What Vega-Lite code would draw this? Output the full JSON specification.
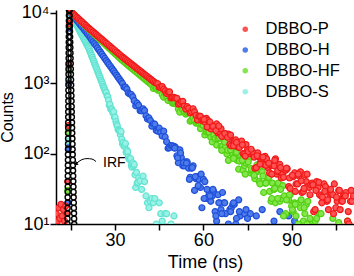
{
"$schema":"https://vega.github.io/schema/vega-lite/v6.json",
"width":298,"height":214,
"autosize":{"type":"none"},
"padding":{"left":56,"top":10,"right":0,"bottom":52},
"config":{"font":"Liberation Sans","view":{"stroke":null},
"axis":{"grid":false,"domainColor":"#000","domainWidth":1.5,"tickColor":"#000","tickWidth":1.5,"tickSize":6,"labelColor":"#000","titleColor":"#000","labelFont":"Liberation Sans","titleFont":"Liberation Sans","titleFontWeight":"normal"}},
"datasets":{
"decay":[
{"s":"DBBO-S","t":14.1,"c":150},{"s":"DBBO-S","t":14.3,"c":1200},{"s":"DBBO-S","t":14.45,"c":6500},{"s":"DBBO-S","t":14.6,"c":10200},
{"s":"DBBO-S","t":15,"c":9550},{"s":"DBBO-S","t":15.25,"c":9120},{"s":"DBBO-S","t":15.5,"c":8710},{"s":"DBBO-S","t":15.75,"c":8318},{"s":"DBBO-S","t":16,"c":7943},{"s":"DBBO-S","t":16.25,"c":7586},{"s":"DBBO-S","t":16.5,"c":7244},{"s":"DBBO-S","t":16.75,"c":6918},{"s":"DBBO-S","t":17,"c":6607},{"s":"DBBO-S","t":17.25,"c":6310},{"s":"DBBO-S","t":17.5,"c":6026},{"s":"DBBO-S","t":17.75,"c":5754},{"s":"DBBO-S","t":18,"c":5495},{"s":"DBBO-S","t":18.25,"c":5248},{"s":"DBBO-S","t":18.5,"c":5012},{"s":"DBBO-S","t":18.75,"c":4786},{"s":"DBBO-S","t":19,"c":4571},{"s":"DBBO-S","t":19.25,"c":4365},{"s":"DBBO-S","t":19.5,"c":4169},{"s":"DBBO-S","t":19.75,"c":3981},{"s":"DBBO-S","t":20,"c":3802},{"s":"DBBO-S","t":20.25,"c":3631},{"s":"DBBO-S","t":20.5,"c":3467},{"s":"DBBO-S","t":20.75,"c":3311},{"s":"DBBO-S","t":21,"c":3162},{"s":"DBBO-S","t":21.25,"c":2972},{"s":"DBBO-S","t":21.5,"c":2793},{"s":"DBBO-S","t":21.75,"c":2624},{"s":"DBBO-S","t":22,"c":2466},{"s":"DBBO-S","t":22.25,"c":2317},{"s":"DBBO-S","t":22.5,"c":2173},{"s":"DBBO-S","t":22.75,"c":2042},{"s":"DBBO-S","t":23,"c":1919},{"s":"DBBO-S","t":23.25,"c":1803},{"s":"DBBO-S","t":23.5,"c":1694},{"s":"DBBO-S","t":23.75,"c":1592},{"s":"DBBO-S","t":24,"c":1496},{"s":"DBBO-S","t":24.25,"c":1406},{"s":"DBBO-S","t":24.5,"c":1321},{"s":"DBBO-S","t":24.75,"c":1242},{"s":"DBBO-S","t":25,"c":1167},{"s":"DBBO-S","t":25.25,"c":1096},{"s":"DBBO-S","t":25.5,"c":1030},{"s":"DBBO-S","t":25.75,"c":966},{"s":"DBBO-S","t":26,"c":899},{"s":"DBBO-S","t":26.25,"c":853},{"s":"DBBO-S","t":26.5,"c":802},{"s":"DBBO-S","t":26.75,"c":753},{"s":"DBBO-S","t":27,"c":732},{"s":"DBBO-S","t":27.25,"c":661},{"s":"DBBO-S","t":27.5,"c":642},{"s":"DBBO-S","t":27.75,"c":574},{"s":"DBBO-S","t":28,"c":486},{"s":"DBBO-S","t":28.25,"c":499},{"s":"DBBO-S","t":28.5,"c":428},{"s":"DBBO-S","t":28.75,"c":434},{"s":"DBBO-S","t":29,"c":408},{"s":"DBBO-S","t":29.25,"c":377},{"s":"DBBO-S","t":29.5,"c":392},{"s":"DBBO-S","t":29.75,"c":327},{"s":"DBBO-S","t":30,"c":328},{"s":"DBBO-S","t":30.25,"c":284},{"s":"DBBO-S","t":30.5,"c":262},{"s":"DBBO-S","t":30.75,"c":247},{"s":"DBBO-S","t":31,"c":219},{"s":"DBBO-S","t":31.25,"c":215},{"s":"DBBO-S","t":31.5,"c":210},{"s":"DBBO-S","t":31.75,"c":187},{"s":"DBBO-S","t":32,"c":206},{"s":"DBBO-S","t":32.25,"c":160},{"s":"DBBO-S","t":32.5,"c":138},{"s":"DBBO-S","t":32.75,"c":143},{"s":"DBBO-S","t":33,"c":127},{"s":"DBBO-S","t":33.25,"c":130},{"s":"DBBO-S","t":33.5,"c":139},{"s":"DBBO-S","t":33.75,"c":104},{"s":"DBBO-S","t":34,"c":112},{"s":"DBBO-S","t":34.25,"c":106},{"s":"DBBO-S","t":34.5,"c":89},{"s":"DBBO-S","t":34.75,"c":84},{"s":"DBBO-S","t":35,"c":82},{"s":"DBBO-S","t":35.25,"c":85},{"s":"DBBO-S","t":35.5,"c":68},{"s":"DBBO-S","t":35.75,"c":64},{"s":"DBBO-S","t":36,"c":74},{"s":"DBBO-S","t":36.25,"c":67},{"s":"DBBO-S","t":36.5,"c":70},{"s":"DBBO-S","t":36.75,"c":50},{"s":"DBBO-S","t":37,"c":33},{"s":"DBBO-S","t":37.25,"c":54},{"s":"DBBO-S","t":37.5,"c":38},{"s":"DBBO-S","t":37.75,"c":39},{"s":"DBBO-S","t":38,"c":45},{"s":"DBBO-S","t":38.5,"c":41},{"s":"DBBO-S","t":39,"c":31},{"s":"DBBO-S","t":39.5,"c":48},{"s":"DBBO-S","t":40,"c":40},{"s":"DBBO-S","t":40.5,"c":25},{"s":"DBBO-S","t":41,"c":20},{"s":"DBBO-S","t":41.5,"c":17},{"s":"DBBO-S","t":42,"c":21},{"s":"DBBO-S","t":42.5,"c":23},{"s":"DBBO-S","t":43,"c":20},{"s":"DBBO-S","t":43.5,"c":23},{"s":"DBBO-S","t":44,"c":10},{"s":"DBBO-S","t":44.5,"c":6},{"s":"DBBO-S","t":45,"c":20},{"s":"DBBO-S","t":45.5,"c":14},{"s":"DBBO-S","t":46,"c":11},{"s":"DBBO-S","t":46.5,"c":8},{"s":"DBBO-S","t":47,"c":14},{"s":"DBBO-S","t":47.5,"c":14},{"s":"DBBO-S","t":48,"c":5},{"s":"DBBO-S","t":49,"c":10},{"s":"DBBO-S","t":50,"c":13},
{"s":"DBBO-H","t":14,"c":20},{"s":"DBBO-H","t":14.15,"c":120},{"s":"DBBO-H","t":14.3,"c":1000},{"s":"DBBO-H","t":14.45,"c":6000},{"s":"DBBO-H","t":14.6,"c":10300},
{"s":"DBBO-H","t":15,"c":9863},{"s":"DBBO-H","t":15.5,"c":9290},{"s":"DBBO-H","t":16,"c":8750},{"s":"DBBO-H","t":16.5,"c":8241},{"s":"DBBO-H","t":17,"c":7745},{"s":"DBBO-H","t":17.5,"c":7295},{"s":"DBBO-H","t":18,"c":6871},{"s":"DBBO-H","t":18.5,"c":6471},{"s":"DBBO-H","t":19,"c":6095},{"s":"DBBO-H","t":19.5,"c":5741},{"s":"DBBO-H","t":20,"c":5395},{"s":"DBBO-H","t":20.5,"c":5082},{"s":"DBBO-H","t":21,"c":4786},{"s":"DBBO-H","t":21.5,"c":4467},{"s":"DBBO-H","t":22,"c":4169},{"s":"DBBO-H","t":22.5,"c":3890},{"s":"DBBO-H","t":23,"c":3631},{"s":"DBBO-H","t":23.5,"c":3388},{"s":"DBBO-H","t":24,"c":3162},{"s":"DBBO-H","t":24.5,"c":2951},{"s":"DBBO-H","t":25,"c":2754},{"s":"DBBO-H","t":25.5,"c":2570},{"s":"DBBO-H","t":26,"c":2399},{"s":"DBBO-H","t":26.5,"c":2239},{"s":"DBBO-H","t":27,"c":2089},{"s":"DBBO-H","t":27.5,"c":1950},{"s":"DBBO-H","t":28,"c":1824},{"s":"DBBO-H","t":28.5,"c":1706},{"s":"DBBO-H","t":29,"c":1592},{"s":"DBBO-H","t":29.5,"c":1489},{"s":"DBBO-H","t":30,"c":1390},{"s":"DBBO-H","t":30.5,"c":1300},{"s":"DBBO-H","t":31,"c":1213},{"s":"DBBO-H","t":31.5,"c":1132},{"s":"DBBO-H","t":32,"c":1059},{"s":"DBBO-H","t":32.5,"c":989},{"s":"DBBO-H","t":33,"c":879},{"s":"DBBO-H","t":33.5,"c":878},{"s":"DBBO-H","t":34,"c":822},{"s":"DBBO-H","t":34.5,"c":726},{"s":"DBBO-H","t":35,"c":700},{"s":"DBBO-H","t":35.5,"c":689},{"s":"DBBO-H","t":36,"c":639},{"s":"DBBO-H","t":36.5,"c":563},{"s":"DBBO-H","t":37,"c":476},{"s":"DBBO-H","t":37.5,"c":518},{"s":"DBBO-H","t":38,"c":483},{"s":"DBBO-H","t":38.5,"c":407},{"s":"DBBO-H","t":39,"c":404},{"s":"DBBO-H","t":39.5,"c":430},{"s":"DBBO-H","t":40,"c":407},{"s":"DBBO-H","t":40.5,"c":344},{"s":"DBBO-H","t":41,"c":310},{"s":"DBBO-H","t":41.5,"c":320},{"s":"DBBO-H","t":42,"c":294},{"s":"DBBO-H","t":42.5,"c":245},{"s":"DBBO-H","t":43,"c":265},{"s":"DBBO-H","t":43.5,"c":261},{"s":"DBBO-H","t":44,"c":212},{"s":"DBBO-H","t":44.5,"c":208},{"s":"DBBO-H","t":45,"c":229},{"s":"DBBO-H","t":45.5,"c":200},{"s":"DBBO-H","t":46,"c":178},{"s":"DBBO-H","t":46.5,"c":208},{"s":"DBBO-H","t":47,"c":172},{"s":"DBBO-H","t":47.5,"c":147},{"s":"DBBO-H","t":48,"c":119},{"s":"DBBO-H","t":48.5,"c":121},{"s":"DBBO-H","t":49,"c":130},{"s":"DBBO-H","t":49.5,"c":129},{"s":"DBBO-H","t":50,"c":127},{"s":"DBBO-H","t":50.5,"c":123},{"s":"DBBO-H","t":51,"c":93},{"s":"DBBO-H","t":51.5,"c":74},{"s":"DBBO-H","t":52,"c":113},{"s":"DBBO-H","t":52.5,"c":88},{"s":"DBBO-H","t":53,"c":67},{"s":"DBBO-H","t":53.5,"c":67},{"s":"DBBO-H","t":54,"c":76},{"s":"DBBO-H","t":54.5,"c":76},{"s":"DBBO-H","t":55,"c":62},{"s":"DBBO-H","t":55.5,"c":46},{"s":"DBBO-H","t":56,"c":62},{"s":"DBBO-H","t":56.5,"c":67},{"s":"DBBO-H","t":57,"c":30},{"s":"DBBO-H","t":57.5,"c":44},{"s":"DBBO-H","t":58,"c":47},{"s":"DBBO-H","t":58.5,"c":43},{"s":"DBBO-H","t":59,"c":33},{"s":"DBBO-H","t":59.5,"c":17},{"s":"DBBO-H","t":60,"c":43},{"s":"DBBO-H","t":60.5,"c":40},{"s":"DBBO-H","t":61,"c":23},{"s":"DBBO-H","t":61.5,"c":24},{"s":"DBBO-H","t":62,"c":27},{"s":"DBBO-H","t":62.5,"c":21},{"s":"DBBO-H","t":63,"c":25},{"s":"DBBO-H","t":63.5,"c":29},{"s":"DBBO-H","t":64,"c":15},{"s":"DBBO-H","t":64.5,"c":11},{"s":"DBBO-H","t":65,"c":26},{"s":"DBBO-H","t":65.5,"c":20},{"s":"DBBO-H","t":66,"c":16},{"s":"DBBO-H","t":66.5,"c":28},{"s":"DBBO-H","t":67,"c":20},{"s":"DBBO-H","t":67.5,"c":14},{"s":"DBBO-H","t":68,"c":7},{"s":"DBBO-H","t":68.5,"c":10},{"s":"DBBO-H","t":69,"c":16},{"s":"DBBO-H","t":69.5,"c":17},{"s":"DBBO-H","t":70,"c":19},{"s":"DBBO-H","t":70.5,"c":19},{"s":"DBBO-H","t":71,"c":10},{"s":"DBBO-H","t":71.5,"c":5},{"s":"DBBO-H","t":72,"c":22},{"s":"DBBO-H","t":72.5,"c":13},{"s":"DBBO-H","t":73,"c":7},{"s":"DBBO-H","t":73.5,"c":9},{"s":"DBBO-H","t":74,"c":14},{"s":"DBBO-H","t":74.5,"c":16},{"s":"DBBO-H","t":75,"c":12},{"s":"DBBO-H","t":75.5,"c":6},{"s":"DBBO-H","t":76,"c":14},{"s":"DBBO-H","t":77,"c":5},{"s":"DBBO-H","t":78,"c":13},{"s":"DBBO-H","t":79,"c":8.5},{"s":"DBBO-H","t":80,"c":16},{"s":"DBBO-H","t":82,"c":9},{"s":"DBBO-H","t":84,"c":11},{"s":"DBBO-H","t":86,"c":15},{"s":"DBBO-H","t":88,"c":8},{"s":"DBBO-H","t":89,"c":13},{"s":"DBBO-H","t":91,"c":11},{"s":"DBBO-H","t":93,"c":8},
{"s":"DBBO-H","t":50.25,"c":119},{"s":"DBBO-H","t":51.25,"c":87},{"s":"DBBO-H","t":52.25,"c":102},{"s":"DBBO-H","t":53.25,"c":74},{"s":"DBBO-H","t":54.25,"c":73},{"s":"DBBO-H","t":55.25,"c":43},{"s":"DBBO-H","t":56.25,"c":63},{"s":"DBBO-H","t":57.25,"c":47},{"s":"DBBO-H","t":58.25,"c":35},{"s":"DBBO-H","t":59.25,"c":51},{"s":"DBBO-H","t":60.25,"c":23},{"s":"DBBO-H","t":61.25,"c":31},{"s":"DBBO-H","t":62.25,"c":25},{"s":"DBBO-H","t":63.25,"c":31},{"s":"DBBO-H","t":64.25,"c":13},{"s":"DBBO-H","t":65.25,"c":20},{"s":"DBBO-H","t":66.25,"c":14},{"s":"DBBO-H","t":67.25,"c":20},{"s":"DBBO-H","t":68.25,"c":7},{"s":"DBBO-H","t":69.25,"c":15},{"s":"DBBO-H","t":70.25,"c":20},{"s":"DBBO-H","t":71.25,"c":12},{"s":"DBBO-H","t":72.25,"c":15},
{"s":"DBBO-HF","t":13.9,"c":30},{"s":"DBBO-HF","t":14.1,"c":200},{"s":"DBBO-HF","t":14.3,"c":1500},{"s":"DBBO-HF","t":14.45,"c":6500},{"s":"DBBO-HF","t":14.6,"c":10400},
{"s":"DBBO-HF","t":15,"c":10233},{"s":"DBBO-HF","t":15.5,"c":9772},{"s":"DBBO-HF","t":16,"c":9333},{"s":"DBBO-HF","t":16.5,"c":8913},{"s":"DBBO-HF","t":17,"c":8511},{"s":"DBBO-HF","t":17.5,"c":8128},{"s":"DBBO-HF","t":18,"c":7762},{"s":"DBBO-HF","t":18.5,"c":7413},{"s":"DBBO-HF","t":19,"c":7079},{"s":"DBBO-HF","t":19.5,"c":6761},{"s":"DBBO-HF","t":20,"c":6457},{"s":"DBBO-HF","t":20.5,"c":6166},{"s":"DBBO-HF","t":21,"c":5888},{"s":"DBBO-HF","t":21.5,"c":5623},{"s":"DBBO-HF","t":22,"c":5383},{"s":"DBBO-HF","t":22.5,"c":5140},{"s":"DBBO-HF","t":23,"c":4920},{"s":"DBBO-HF","t":23.5,"c":4699},{"s":"DBBO-HF","t":24,"c":4498},{"s":"DBBO-HF","t":24.5,"c":4295},{"s":"DBBO-HF","t":25,"c":4111},{"s":"DBBO-HF","t":25.5,"c":3926},{"s":"DBBO-HF","t":26,"c":3758},{"s":"DBBO-HF","t":26.5,"c":3589},{"s":"DBBO-HF","t":27,"c":3428},{"s":"DBBO-HF","t":27.5,"c":3281},{"s":"DBBO-HF","t":28,"c":3133},{"s":"DBBO-HF","t":28.5,"c":2999},{"s":"DBBO-HF","t":29,"c":2864},{"s":"DBBO-HF","t":29.5,"c":2735},{"s":"DBBO-HF","t":30,"c":2618},{"s":"DBBO-HF","t":30.5,"c":2500},{"s":"DBBO-HF","t":31,"c":2393},{"s":"DBBO-HF","t":31.5,"c":2286},{"s":"DBBO-HF","t":32,"c":2188},{"s":"DBBO-HF","t":32.5,"c":2089},{"s":"DBBO-HF","t":33,"c":2009},{"s":"DBBO-HF","t":33.5,"c":1928},{"s":"DBBO-HF","t":34,"c":1854},{"s":"DBBO-HF","t":34.5,"c":1782},{"s":"DBBO-HF","t":35,"c":1710},{"s":"DBBO-HF","t":35.5,"c":1644},{"s":"DBBO-HF","t":36,"c":1581},{"s":"DBBO-HF","t":36.5,"c":1517},{"s":"DBBO-HF","t":37,"c":1459},{"s":"DBBO-HF","t":37.5,"c":1403},{"s":"DBBO-HF","t":38,"c":1346},{"s":"DBBO-HF","t":38.5,"c":1294},{"s":"DBBO-HF","t":39,"c":1245},{"s":"DBBO-HF","t":39.5,"c":1194},{"s":"DBBO-HF","t":40,"c":1148},{"s":"DBBO-HF","t":40.5,"c":1104},{"s":"DBBO-HF","t":41,"c":1059},{"s":"DBBO-HF","t":41.5,"c":1019},{"s":"DBBO-HF","t":42,"c":977},{"s":"DBBO-HF","t":42.5,"c":940},{"s":"DBBO-HF","t":43,"c":841},{"s":"DBBO-HF","t":43.5,"c":893},{"s":"DBBO-HF","t":44,"c":840},{"s":"DBBO-HF","t":44.5,"c":791},{"s":"DBBO-HF","t":45,"c":805},{"s":"DBBO-HF","t":45.5,"c":781},{"s":"DBBO-HF","t":46,"c":690},{"s":"DBBO-HF","t":46.5,"c":632},{"s":"DBBO-HF","t":47,"c":717},{"s":"DBBO-HF","t":47.5,"c":639},{"s":"DBBO-HF","t":48,"c":568},{"s":"DBBO-HF","t":48.5,"c":633},{"s":"DBBO-HF","t":49,"c":574},{"s":"DBBO-HF","t":49.5,"c":518},{"s":"DBBO-HF","t":50,"c":514},{"s":"DBBO-HF","t":50.5,"c":508},{"s":"DBBO-HF","t":51,"c":498},{"s":"DBBO-HF","t":51.5,"c":430},{"s":"DBBO-HF","t":52,"c":386},{"s":"DBBO-HF","t":52.5,"c":460},{"s":"DBBO-HF","t":53,"c":420},{"s":"DBBO-HF","t":53.5,"c":387},{"s":"DBBO-HF","t":54,"c":363},{"s":"DBBO-HF","t":54.5,"c":374},{"s":"DBBO-HF","t":55,"c":384},{"s":"DBBO-HF","t":55.5,"c":288},{"s":"DBBO-HF","t":56,"c":300},{"s":"DBBO-HF","t":56.5,"c":322},{"s":"DBBO-HF","t":57,"c":294},{"s":"DBBO-HF","t":57.5,"c":269},{"s":"DBBO-HF","t":58,"c":275},{"s":"DBBO-HF","t":58.5,"c":269},{"s":"DBBO-HF","t":59,"c":226},{"s":"DBBO-HF","t":59.5,"c":259},{"s":"DBBO-HF","t":60,"c":251},{"s":"DBBO-HF","t":60.5,"c":184},{"s":"DBBO-HF","t":61,"c":203},{"s":"DBBO-HF","t":61.5,"c":202},{"s":"DBBO-HF","t":62,"c":202},{"s":"DBBO-HF","t":62.5,"c":170},{"s":"DBBO-HF","t":63,"c":146},{"s":"DBBO-HF","t":63.5,"c":181},{"s":"DBBO-HF","t":64,"c":163},{"s":"DBBO-HF","t":64.5,"c":132},{"s":"DBBO-HF","t":65,"c":163},{"s":"DBBO-HF","t":65.5,"c":167},{"s":"DBBO-HF","t":66,"c":126},{"s":"DBBO-HF","t":66.5,"c":127},{"s":"DBBO-HF","t":67,"c":151},{"s":"DBBO-HF","t":67.5,"c":126},{"s":"DBBO-HF","t":68,"c":99},{"s":"DBBO-HF","t":68.5,"c":80},{"s":"DBBO-HF","t":69,"c":112},{"s":"DBBO-HF","t":69.5,"c":120},{"s":"DBBO-HF","t":70,"c":97},{"s":"DBBO-HF","t":70.5,"c":89},{"s":"DBBO-HF","t":71,"c":101},{"s":"DBBO-HF","t":71.5,"c":80},{"s":"DBBO-HF","t":72,"c":60},{"s":"DBBO-HF","t":72.5,"c":93},{"s":"DBBO-HF","t":73,"c":83},{"s":"DBBO-HF","t":73.5,"c":58},{"s":"DBBO-HF","t":74,"c":67},{"s":"DBBO-HF","t":74.5,"c":73},{"s":"DBBO-HF","t":75,"c":82},{"s":"DBBO-HF","t":75.5,"c":85},{"s":"DBBO-HF","t":76,"c":53},{"s":"DBBO-HF","t":76.5,"c":56},{"s":"DBBO-HF","t":77,"c":58},{"s":"DBBO-HF","t":77.5,"c":44},{"s":"DBBO-HF","t":78,"c":55},{"s":"DBBO-HF","t":78.5,"c":56},{"s":"DBBO-HF","t":79,"c":40},{"s":"DBBO-HF","t":79.5,"c":57},{"s":"DBBO-HF","t":80,"c":55},{"s":"DBBO-HF","t":80.5,"c":28},{"s":"DBBO-HF","t":81,"c":38},{"s":"DBBO-HF","t":81.5,"c":40},{"s":"DBBO-HF","t":82,"c":41},{"s":"DBBO-HF","t":82.5,"c":29},{"s":"DBBO-HF","t":83,"c":21},{"s":"DBBO-HF","t":83.5,"c":38},{"s":"DBBO-HF","t":84,"c":31},{"s":"DBBO-HF","t":84.5,"c":20},{"s":"DBBO-HF","t":85,"c":35},{"s":"DBBO-HF","t":85.5,"c":38},{"s":"DBBO-HF","t":86,"c":21},{"s":"DBBO-HF","t":86.5,"c":23},{"s":"DBBO-HF","t":87,"c":35},{"s":"DBBO-HF","t":87.5,"c":25},{"s":"DBBO-HF","t":88,"c":14},{"s":"DBBO-HF","t":88.5,"c":7},{"s":"DBBO-HF","t":89,"c":22},{"s":"DBBO-HF","t":89.5,"c":26},{"s":"DBBO-HF","t":90,"c":18},{"s":"DBBO-HF","t":90.5,"c":15},{"s":"DBBO-HF","t":91,"c":20},{"s":"DBBO-HF","t":91.5,"c":13},{"s":"DBBO-HF","t":92,"c":6},{"s":"DBBO-HF","t":92.5,"c":20},{"s":"DBBO-HF","t":93,"c":17},{"s":"DBBO-HF","t":93.5,"c":7},{"s":"DBBO-HF","t":94,"c":11},{"s":"DBBO-HF","t":94.5,"c":14},{"s":"DBBO-HF","t":95,"c":19},{"s":"DBBO-HF","t":95.5,"c":21},{"s":"DBBO-HF","t":96,"c":8},{"s":"DBBO-HF","t":96.5,"c":9.5},{"s":"DBBO-HF","t":97,"c":11},{"s":"DBBO-HF","t":97.5,"c":6},{"s":"DBBO-HF","t":98,"c":11},{"s":"DBBO-HF","t":98.5,"c":12},{"s":"DBBO-HF","t":99,"c":6},{"s":"DBBO-HF","t":99.5,"c":14},{"s":"DBBO-HF","t":100,"c":14},{"s":"DBBO-HF","t":104,"c":12},{"s":"DBBO-HF","t":106,"c":10.5},{"s":"DBBO-HF","t":107.5,"c":24},{"s":"DBBO-HF","t":109,"c":11},
{"s":"DBBO-HF","t":66.25,"c":111},{"s":"DBBO-HF","t":67.25,"c":145},{"s":"DBBO-HF","t":68.25,"c":111},{"s":"DBBO-HF","t":69.25,"c":113},{"s":"DBBO-HF","t":70.25,"c":85},{"s":"DBBO-HF","t":71.25,"c":104},{"s":"DBBO-HF","t":72.25,"c":78},{"s":"DBBO-HF","t":73.25,"c":80},{"s":"DBBO-HF","t":74.25,"c":51},{"s":"DBBO-HF","t":75.25,"c":76},{"s":"DBBO-HF","t":76.25,"c":61},{"s":"DBBO-HF","t":77.25,"c":49},{"s":"DBBO-HF","t":78.25,"c":69},{"s":"DBBO-HF","t":79.25,"c":37},{"s":"DBBO-HF","t":80.25,"c":48},{"s":"DBBO-HF","t":81.25,"c":38},{"s":"DBBO-HF","t":82.25,"c":46},{"s":"DBBO-HF","t":83.25,"c":23},{"s":"DBBO-HF","t":84.25,"c":32},{"s":"DBBO-HF","t":85.25,"c":23},{"s":"DBBO-HF","t":86.25,"c":31},{"s":"DBBO-HF","t":87.25,"c":13},{"s":"DBBO-HF","t":88.25,"c":22},{"s":"DBBO-HF","t":89.25,"c":26},{"s":"DBBO-HF","t":90.25,"c":16},{"s":"DBBO-HF","t":91.25,"c":19},{"s":"DBBO-HF","t":92.25,"c":10},{"s":"DBBO-HF","t":93.25,"c":22},{"s":"DBBO-HF","t":94.25,"c":17},{"s":"DBBO-HF","t":95.25,"c":10},{"s":"DBBO-HF","t":96.25,"c":12},{"s":"DBBO-HF","t":97.25,"c":5},
{"s":"DBBO-P","t":10,"c":14},{"s":"DBBO-P","t":10.4,"c":11},{"s":"DBBO-P","t":10.8,"c":17},{"s":"DBBO-P","t":11.2,"c":12},{"s":"DBBO-P","t":11.6,"c":19},{"s":"DBBO-P","t":12,"c":13},{"s":"DBBO-P","t":12.4,"c":16},{"s":"DBBO-P","t":12.8,"c":11},{"s":"DBBO-P","t":13.2,"c":18},{"s":"DBBO-P","t":13.6,"c":14},{"s":"DBBO-P","t":13.9,"c":40},{"s":"DBBO-P","t":14.1,"c":250},{"s":"DBBO-P","t":14.3,"c":1800},{"s":"DBBO-P","t":14.45,"c":7000},{"s":"DBBO-P","t":14.6,"c":10600},
{"s":"DBBO-P","t":15,"c":10257},{"s":"DBBO-P","t":15.5,"c":9817},{"s":"DBBO-P","t":16,"c":9376},{"s":"DBBO-P","t":16.5,"c":8974},{"s":"DBBO-P","t":17,"c":8590},{"s":"DBBO-P","t":17.5,"c":8222},{"s":"DBBO-P","t":18,"c":7852},{"s":"DBBO-P","t":18.5,"c":7516},{"s":"DBBO-P","t":19,"c":7194},{"s":"DBBO-P","t":19.5,"c":6887},{"s":"DBBO-P","t":20,"c":6577},{"s":"DBBO-P","t":20.5,"c":6295},{"s":"DBBO-P","t":21,"c":6026},{"s":"DBBO-P","t":21.5,"c":5781},{"s":"DBBO-P","t":22,"c":5546},{"s":"DBBO-P","t":22.5,"c":5333},{"s":"DBBO-P","t":23,"c":5117},{"s":"DBBO-P","t":23.5,"c":4909},{"s":"DBBO-P","t":24,"c":4710},{"s":"DBBO-P","t":24.5,"c":4519},{"s":"DBBO-P","t":25,"c":4335},{"s":"DBBO-P","t":25.5,"c":4169},{"s":"DBBO-P","t":26,"c":4000},{"s":"DBBO-P","t":26.5,"c":3837},{"s":"DBBO-P","t":27,"c":3681},{"s":"DBBO-P","t":27.5,"c":3532},{"s":"DBBO-P","t":28,"c":3388},{"s":"DBBO-P","t":28.5,"c":3258},{"s":"DBBO-P","t":29,"c":3126},{"s":"DBBO-P","t":29.5,"c":2999},{"s":"DBBO-P","t":30,"c":2877},{"s":"DBBO-P","t":30.5,"c":2761},{"s":"DBBO-P","t":31,"c":2655},{"s":"DBBO-P","t":31.5,"c":2547},{"s":"DBBO-P","t":32,"c":2443},{"s":"DBBO-P","t":32.5,"c":2344},{"s":"DBBO-P","t":33,"c":2259},{"s":"DBBO-P","t":33.5,"c":2173},{"s":"DBBO-P","t":34,"c":2094},{"s":"DBBO-P","t":34.5,"c":2014},{"s":"DBBO-P","t":35,"c":1941},{"s":"DBBO-P","t":35.5,"c":1866},{"s":"DBBO-P","t":36,"c":1799},{"s":"DBBO-P","t":36.5,"c":1730},{"s":"DBBO-P","t":37,"c":1667},{"s":"DBBO-P","t":37.5,"c":1603},{"s":"DBBO-P","t":38,"c":1545},{"s":"DBBO-P","t":38.5,"c":1486},{"s":"DBBO-P","t":39,"c":1432},{"s":"DBBO-P","t":39.5,"c":1380},{"s":"DBBO-P","t":40,"c":1327},{"s":"DBBO-P","t":40.5,"c":1279},{"s":"DBBO-P","t":41,"c":1230},{"s":"DBBO-P","t":41.5,"c":1186},{"s":"DBBO-P","t":42,"c":1140},{"s":"DBBO-P","t":42.5,"c":1099},{"s":"DBBO-P","t":43,"c":1059},{"s":"DBBO-P","t":43.5,"c":1019},{"s":"DBBO-P","t":44,"c":995},{"s":"DBBO-P","t":44.5,"c":978},{"s":"DBBO-P","t":45,"c":874},{"s":"DBBO-P","t":45.5,"c":860},{"s":"DBBO-P","t":46,"c":892},{"s":"DBBO-P","t":46.5,"c":820},{"s":"DBBO-P","t":47,"c":774},{"s":"DBBO-P","t":47.5,"c":714},{"s":"DBBO-P","t":48,"c":748},{"s":"DBBO-P","t":48.5,"c":750},{"s":"DBBO-P","t":49,"c":617},{"s":"DBBO-P","t":49.5,"c":623},{"s":"DBBO-P","t":50,"c":627},{"s":"DBBO-P","t":50.5,"c":613},{"s":"DBBO-P","t":51,"c":608},{"s":"DBBO-P","t":51.5,"c":503},{"s":"DBBO-P","t":52,"c":517},{"s":"DBBO-P","t":52.5,"c":545},{"s":"DBBO-P","t":53,"c":551},{"s":"DBBO-P","t":53.5,"c":471},{"s":"DBBO-P","t":54,"c":428},{"s":"DBBO-P","t":54.5,"c":462},{"s":"DBBO-P","t":55,"c":439},{"s":"DBBO-P","t":55.5,"c":378},{"s":"DBBO-P","t":56,"c":396},{"s":"DBBO-P","t":56.5,"c":432},{"s":"DBBO-P","t":57,"c":391},{"s":"DBBO-P","t":57.5,"c":348},{"s":"DBBO-P","t":58,"c":299},{"s":"DBBO-P","t":58.5,"c":339},{"s":"DBBO-P","t":59,"c":337},{"s":"DBBO-P","t":59.5,"c":294},{"s":"DBBO-P","t":60,"c":292},{"s":"DBBO-P","t":60.5,"c":280},{"s":"DBBO-P","t":61,"c":316},{"s":"DBBO-P","t":61.5,"c":295},{"s":"DBBO-P","t":62,"c":247},{"s":"DBBO-P","t":62.5,"c":224},{"s":"DBBO-P","t":63,"c":247},{"s":"DBBO-P","t":63.5,"c":245},{"s":"DBBO-P","t":64,"c":235},{"s":"DBBO-P","t":64.5,"c":263},{"s":"DBBO-P","t":65,"c":196},{"s":"DBBO-P","t":65.5,"c":201},{"s":"DBBO-P","t":66,"c":224},{"s":"DBBO-P","t":66.5,"c":175},{"s":"DBBO-P","t":67,"c":182},{"s":"DBBO-P","t":67.5,"c":191},{"s":"DBBO-P","t":68,"c":186},{"s":"DBBO-P","t":68.5,"c":189},{"s":"DBBO-P","t":69,"c":135},{"s":"DBBO-P","t":69.5,"c":128},{"s":"DBBO-P","t":70,"c":153},{"s":"DBBO-P","t":70.5,"c":150},{"s":"DBBO-P","t":71,"c":156},{"s":"DBBO-P","t":71.5,"c":125},{"s":"DBBO-P","t":72,"c":123},{"s":"DBBO-P","t":72.5,"c":139},{"s":"DBBO-P","t":73,"c":150},{"s":"DBBO-P","t":73.5,"c":100},{"s":"DBBO-P","t":74,"c":99},{"s":"DBBO-P","t":74.5,"c":134},{"s":"DBBO-P","t":75,"c":113},{"s":"DBBO-P","t":75.5,"c":101},{"s":"DBBO-P","t":76,"c":99},{"s":"DBBO-P","t":76.5,"c":102},{"s":"DBBO-P","t":77,"c":103},{"s":"DBBO-P","t":77.5,"c":62},{"s":"DBBO-P","t":78,"c":63},{"s":"DBBO-P","t":78.5,"c":102},{"s":"DBBO-P","t":79,"c":89},{"s":"DBBO-P","t":79.5,"c":76},{"s":"DBBO-P","t":80,"c":74},{"s":"DBBO-P","t":80.5,"c":70},{"s":"DBBO-P","t":81,"c":91},{"s":"DBBO-P","t":81.5,"c":84},{"s":"DBBO-P","t":82,"c":63},{"s":"DBBO-P","t":82.5,"c":53},{"s":"DBBO-P","t":83,"c":68},{"s":"DBBO-P","t":83.5,"c":69},{"s":"DBBO-P","t":84,"c":67},{"s":"DBBO-P","t":84.5,"c":84},{"s":"DBBO-P","t":85,"c":51},{"s":"DBBO-P","t":85.5,"c":55},{"s":"DBBO-P","t":86,"c":70},{"s":"DBBO-P","t":86.5,"c":45},{"s":"DBBO-P","t":87,"c":52},{"s":"DBBO-P","t":87.5,"c":59},{"s":"DBBO-P","t":88,"c":58},{"s":"DBBO-P","t":88.5,"c":61},{"s":"DBBO-P","t":89,"c":34},{"s":"DBBO-P","t":89.5,"c":32},{"s":"DBBO-P","t":90,"c":47},{"s":"DBBO-P","t":90.5,"c":47},{"s":"DBBO-P","t":91,"c":53},{"s":"DBBO-P","t":91.5,"c":37},{"s":"DBBO-P","t":92,"c":37},{"s":"DBBO-P","t":92.5,"c":48},{"s":"DBBO-P","t":93,"c":55},{"s":"DBBO-P","t":93.5,"c":28},{"s":"DBBO-P","t":94,"c":29},{"s":"DBBO-P","t":94.5,"c":50},{"s":"DBBO-P","t":95,"c":40},{"s":"DBBO-P","t":95.5,"c":34},{"s":"DBBO-P","t":96,"c":33},{"s":"DBBO-P","t":96.5,"c":36},{"s":"DBBO-P","t":97,"c":38},{"s":"DBBO-P","t":97.5,"c":15},{"s":"DBBO-P","t":98,"c":16},{"s":"DBBO-P","t":98.5,"c":40},{"s":"DBBO-P","t":99,"c":33},{"s":"DBBO-P","t":99.5,"c":26},{"s":"DBBO-P","t":100,"c":25},{"s":"DBBO-P","t":100.5,"c":24},{"s":"DBBO-P","t":101,"c":37},{"s":"DBBO-P","t":101.5,"c":34},{"s":"DBBO-P","t":102,"c":21},{"s":"DBBO-P","t":102.5,"c":16},{"s":"DBBO-P","t":103,"c":26},{"s":"DBBO-P","t":103.5,"c":27},{"s":"DBBO-P","t":104,"c":26},{"s":"DBBO-P","t":104.5,"c":37},{"s":"DBBO-P","t":105,"c":17},{"s":"DBBO-P","t":105.5,"c":21},{"s":"DBBO-P","t":106,"c":30},{"s":"DBBO-P","t":106.5,"c":16},{"s":"DBBO-P","t":107,"c":21},{"s":"DBBO-P","t":107.5,"c":25},{"s":"DBBO-P","t":108,"c":25},{"s":"DBBO-P","t":108.5,"c":28},{"s":"DBBO-P","t":109,"c":11},{"s":"DBBO-P","t":109.5,"c":10},{"s":"DBBO-P","t":110,"c":21},{"s":"DBBO-P","t":110.5,"c":21},{"s":"DBBO-P","t":111,"c":25},
{"s":"DBBO-P","t":60.25,"c":306},{"s":"DBBO-P","t":61.25,"c":239},{"s":"DBBO-P","t":62.25,"c":281},{"s":"DBBO-P","t":63.25,"c":243},{"s":"DBBO-P","t":64.25,"c":212},{"s":"DBBO-P","t":65.25,"c":246},{"s":"DBBO-P","t":66.25,"c":176},{"s":"DBBO-P","t":67.25,"c":192},{"s":"DBBO-P","t":68.25,"c":170},{"s":"DBBO-P","t":69.25,"c":183},{"s":"DBBO-P","t":70.25,"c":129},{"s":"DBBO-P","t":71.25,"c":144},{"s":"DBBO-P","t":72.25,"c":122},{"s":"DBBO-P","t":73.25,"c":133},{"s":"DBBO-P","t":74.25,"c":92},{"s":"DBBO-P","t":75.25,"c":107},{"s":"DBBO-P","t":76.25,"c":115},{"s":"DBBO-P","t":77.25,"c":89},{"s":"DBBO-P","t":78.25,"c":93},{"s":"DBBO-P","t":79.25,"c":71},{"s":"DBBO-P","t":80.25,"c":89},{"s":"DBBO-P","t":81.25,"c":68},{"s":"DBBO-P","t":82.25,"c":73},{"s":"DBBO-P","t":83.25,"c":51},{"s":"DBBO-P","t":84.25,"c":80},{"s":"DBBO-P","t":85.25,"c":57},{"s":"DBBO-P","t":86.25,"c":63},{"s":"DBBO-P","t":87.25,"c":46},{"s":"DBBO-P","t":88.25,"c":62},{"s":"DBBO-P","t":89.25,"c":45},{"s":"DBBO-P","t":90.25,"c":49},{"s":"DBBO-P","t":91.25,"c":29},{"s":"DBBO-P","t":92.25,"c":51},{"s":"DBBO-P","t":93.25,"c":41},{"s":"DBBO-P","t":94.25,"c":32},{"s":"DBBO-P","t":95.25,"c":51},{"s":"DBBO-P","t":96.25,"c":26},{"s":"DBBO-P","t":97.25,"c":36},{"s":"DBBO-P","t":98.25,"c":30},{"s":"DBBO-P","t":99.25,"c":39},{"s":"DBBO-P","t":100.25,"c":20},{"s":"DBBO-P","t":101.25,"c":29},{"s":"DBBO-P","t":102.25,"c":22},{"s":"DBBO-P","t":103.25,"c":31},{"s":"DBBO-P","t":104.25,"c":14},{"s":"DBBO-P","t":105.25,"c":24},{"s":"DBBO-P","t":106.25,"c":30},{"s":"DBBO-P","t":107.25,"c":21},{"s":"DBBO-P","t":108.25,"c":25},{"s":"DBBO-P","t":109.25,"c":15},{"s":"DBBO-P","t":110.25,"c":30}
],
"irf":[
{"t":13.8,"c":10},{"t":13.81,"c":11.9},{"t":13.83,"c":14.2},{"t":13.84,"c":16.9},{"t":13.85,"c":20.1},{"t":13.86,"c":23.9},{"t":13.88,"c":28.5},{"t":13.89,"c":33.9},{"t":13.9,"c":40.4},{"t":13.91,"c":48.1},{"t":13.93,"c":57.3},{"t":13.94,"c":68.2},{"t":13.95,"c":81.2},{"t":13.96,"c":96.8},{"t":13.98,"c":115},{"t":13.99,"c":137},{"t":14,"c":163},{"t":14.01,"c":195},{"t":14.03,"c":232},{"t":14.04,"c":276},{"t":14.05,"c":329},{"t":14.06,"c":392},{"t":14.08,"c":467},{"t":14.09,"c":556},{"t":14.1,"c":662},{"t":14.11,"c":789},{"t":14.13,"c":939},{"t":14.14,"c":1119},{"t":14.15,"c":1332},{"t":14.16,"c":1587},{"t":14.18,"c":1890},{"t":14.19,"c":2251},{"t":14.2,"c":2681},{"t":14.21,"c":3193},{"t":14.23,"c":3803},{"t":14.24,"c":4529},{"t":14.25,"c":5394},{"t":14.26,"c":6424},{"t":14.28,"c":7651},{"t":14.29,"c":9112},{"t":14.3,"c":10852},{"t":14.4,"c":10900},
{"t":14.5,"c":10852},{"t":14.54,"c":9112},{"t":14.58,"c":7651},{"t":14.62,"c":6424},{"t":14.66,"c":5394},{"t":14.7,"c":4529},{"t":14.74,"c":3803},{"t":14.78,"c":3193},{"t":14.82,"c":2681},{"t":14.86,"c":2251},{"t":14.9,"c":1890},{"t":14.94,"c":1587},{"t":14.98,"c":1332},{"t":15.02,"c":1119},{"t":15.06,"c":939},{"t":15.1,"c":789},{"t":15.14,"c":662},{"t":15.18,"c":556},{"t":15.22,"c":467},{"t":15.26,"c":392},{"t":15.3,"c":329},{"t":15.34,"c":276},{"t":15.38,"c":232},{"t":15.42,"c":195},{"t":15.46,"c":163},{"t":15.5,"c":137},{"t":15.54,"c":115},{"t":15.58,"c":96.8},{"t":15.62,"c":81.2},{"t":15.66,"c":68.2},{"t":15.7,"c":57.3},{"t":15.74,"c":48.1},{"t":15.78,"c":40.4},{"t":15.82,"c":33.9},{"t":15.86,"c":28.5},{"t":15.9,"c":23.9},{"t":15.94,"c":20.1},{"t":15.98,"c":16.9},{"t":16.02,"c":14.2},{"t":16.06,"c":11.9},{"t":16.1,"c":10}
],
"arrow":[{"t":23.5,"c":76.9},{"t":22.14,"c":83.5},{"t":20.44,"c":84.8},{"t":18.74,"c":82.1},{"t":17.38,"c":75.6},{"t":16.7,"c":71.9}],
"head":[{"t":16.6,"c":71}],
"note":[{"t":25.9,"c":74,"label":"IRF"}]
},
"encoding":{
"x":{"field":"t","type":"quantitative","scale":{"domain":[9.9,111.2],"nice":false,"zero":false},
"axis":{"title":"Time (ns)","values":[15,30,45,60,75,90,105],"labelExpr":"datum.value % 30 == 0 ? datum.label : ''","labelFontSize":18,"titleFontSize":18,"labelPadding":1,"titlePadding":4}},
"y":{"field":"c","type":"quantitative","scale":{"type":"log","domain":[10,10900],"nice":false},
"axis":{"title":"Counts","values":[10,100,1000,10000],"labelExpr":"'10' + (datum.value == 10 ? '¹' : datum.value == 100 ? '²' : datum.value == 1000 ? '³' : '⁴')","labelFontSize":18,"titleFontSize":16,"labelPadding":1,"titlePadding":6}}
},
"layer":[
{"data":{"name":"decay"},
"mark":{"type":"point","filled":true,"size":36,"strokeWidth":1.2,"opacity":1,"fillOpacity":1,"clip":true},
"encoding":{
"fill":{"field":"s","type":"nominal",
"scale":{"domain":["DBBO-P","DBBO-H","DBBO-HF","DBBO-S"],"range":["#ff5252","#4f7ceb","#84e64a","#9af2e7"]},
"legend":{"title":null,"orient":"none","legendX":181,"legendY":11,"labelFontSize":16.5,"labelFont":"Liberation Sans","labelColor":"#000","symbolType":"circle","symbolSize":30,"symbolStrokeWidth":0,"rowPadding":3.8,"labelOffset":12,"padding":0}},
"stroke":{"field":"s","type":"nominal",
"scale":{"domain":["DBBO-P","DBBO-H","DBBO-HF","DBBO-S"],"range":["#f01a1a","#1f4fd8","#52d014","#62e3d1"]},
"legend":null}}},
{"data":{"name":"irf"},
"mark":{"type":"point","filled":false,"size":26,"strokeWidth":1.4,"color":"#000","opacity":1,"clip":true}},
{"data":{"name":"arrow"},
"mark":{"type":"line","color":"#000","strokeWidth":1,"interpolate":"monotone"},"encoding":{}},
{"data":{"name":"head"},
"mark":{"type":"point","shape":"triangle-left","filled":true,"color":"#000","size":20,"angle":-35,"opacity":1}},
{"data":{"name":"note"},
"mark":{"type":"text","align":"left","baseline":"middle","fontSize":14,"font":"Liberation Sans","color":"#000"},
"encoding":{"text":{"field":"label"}}}
]
}
